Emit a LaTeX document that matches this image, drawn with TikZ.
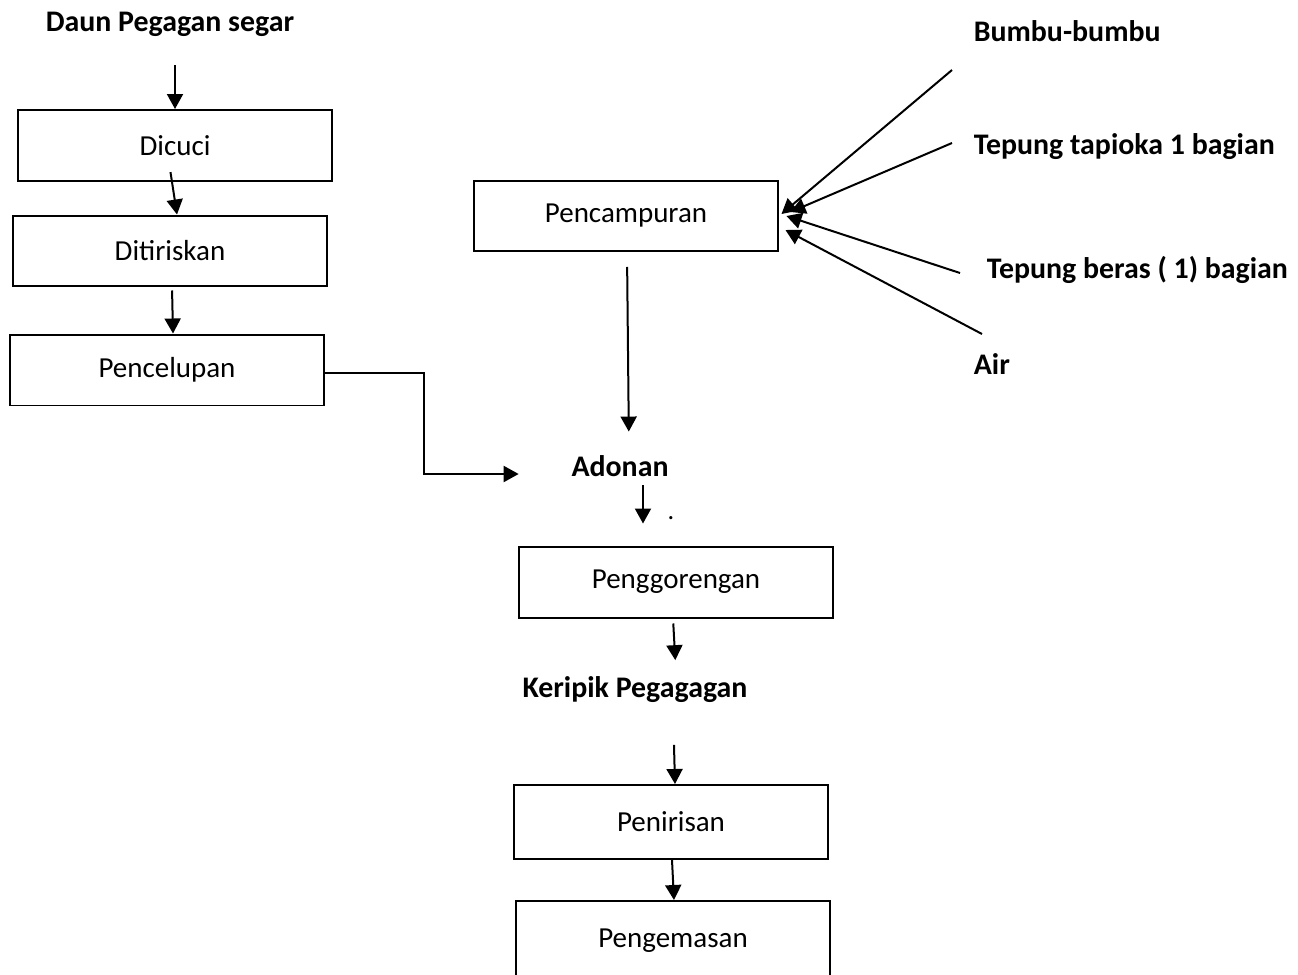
\documentclass[tikz,border=0pt]{standalone}
\usepackage{fontspec}
\setmainfont{Carlito}
\usepackage{tikz}
\usetikzlibrary{arrows.meta,positioning,calc}

\begin{document}
\begin{tikzpicture}[
  x=0.02cm, y=-0.02cm,
  box/.style={draw,line width=0.04cm,minimum width=6.28cm,minimum height=1.42cm,inner sep=0pt,font=\fontsize{16.5}{20}\selectfont},
  lbl/.style={inner sep=2pt,font=\fontsize{17}{20}\selectfont\bfseries},
  arrow/.style={-{Triangle[length=0.3cm,width=0.32cm]},line width=0.04cm}
]
\useasboundingbox (0,0) rectangle (1298,974);
% left column
\node[lbl] (daun) at (170,24) {Daun Pegagan segar};
\node[box] (dicuci) at (175,145.5) {Dicuci};
\node[box] (tiris) at (170,251) {Ditiriskan};
\node[box] (celup) at (167,370) {Pencelupan};
% mixing and inputs
\node[box,minimum width=6.1cm,minimum height=1.4cm] (campur) at (626,216) {Pencampuran};
\node[lbl,anchor=west] (bumbu) at (970,31) {Bumbu-bumbu};
\node[lbl,anchor=west] (tapioka) at (970,147) {Tepung tapioka 1 bagian};
\node[lbl,anchor=west] (beras) at (983,270) {Tepung beras ( 1) bagian};
\node[lbl,anchor=west] (air) at (970,364) {Air};
% middle column
\node[lbl] (adonan) at (620,466) {Adonan};
\node[inner sep=0pt,font=\fontsize{15}{18}\selectfont] (titik) at (671,518) {.};
\node[box] (goreng) at (676,582) {Penggorengan};
\node[lbl] (keripik) at (635,690) {Keripik Pegagagan};
\node[box,minimum height=1.48cm] (tiris2) at (671,822) {Penirisan};
\node[box,minimum height=1.6cm] (kemas) at (673,941) {Pengemasan};

\draw[arrow,shorten <=0.5cm] (daun.south -| dicuci.north) -- (dicuci.north);
\draw[arrow,shorten <=-0.2cm] ([xshift=-0.06cm]dicuci.south) -- ([xshift=0.14cm]tiris.north);
\draw[arrow,shorten <=0.06cm] ([xshift=0.04cm]tiris.south) -- ([xshift=0.12cm]celup.north);
\draw[arrow,shorten >=0.98cm] ([yshift=-0.06cm]celup.east) -| (424,474) -- (adonan.west |- 0,474);
\draw[arrow,shorten <=0.3cm,shorten >=0.4cm] ([xshift=0.02cm]campur.south) -- ([xshift=0.06cm]campur.south |- adonan.north);
\draw[arrow,shorten <=0.1cm,shorten >=0.44cm] ([xshift=0.46cm]adonan.south) -- ([xshift=0.46cm]adonan.south |- goreng.north);
\draw[arrow,shorten <=0.1cm,shorten >=0.26cm] ([xshift=-0.06cm]goreng.south) -- (goreng.south |- keripik.north);
\draw[arrow,shorten <=0.76cm] ([xshift=0.04cm]tiris2.north |- keripik.south) -- ([xshift=0.08cm]tiris2.north);
\draw[arrow] ([xshift=0.02cm]tiris2.south) -- ([xshift=0.02cm]kemas.north);
\draw[arrow] ([shift={(-18,39)}]bumbu.west) -- ([shift={(2,-2)}]campur.east);
\draw[arrow] ([shift={(-18,-4)}]tapioka.west) -- ([shift={(11,-4)}]campur.east);
\draw[arrow] ([shift={(-23,3)}]beras.west) -- ([shift={(7,0)}]campur.east);
\draw[arrow] ([shift={(12,-30)}]air.west) -- ([shift={(6,14)}]campur.east);
\end{tikzpicture}
\end{document}
